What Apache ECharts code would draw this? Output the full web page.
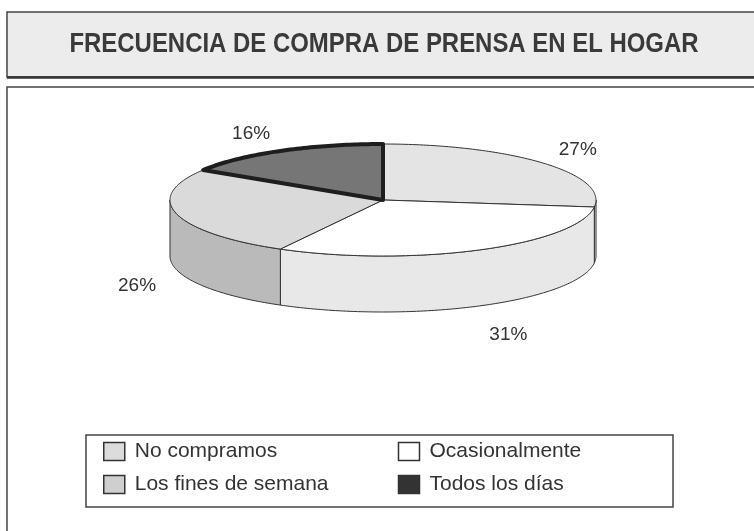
<!DOCTYPE html>
<html>
<head>
<meta charset="utf-8">
<script src="https://cdn.jsdelivr.net/npm/echarts@6/dist/echarts.min.js"></script>
<style>
  html, body { margin: 0; padding: 0; background: #fff; }
  #main { width: 754px; height: 531px; }
</style>
</head>
<body>
<div id="main"></div>
<script>
// data
var titleText = 'FRECUENCIA DE COMPRA DE PRENSA EN EL HOGAR';
var categories = ['No compramos', 'Ocasionalmente', 'Los fines de semana', 'Todos los días'];
var values = [27, 31, 26, 16];
var pctLabels = ['27%', '31%', '26%', '16%'];

// colours
var topColors = ['#e4e4e4', '#ffffff', '#dadada', '#767676'];
var sideColors = ['#e8e8e8', '#e8e8e8', '#bababa', '#444444'];
var legendColors = ['#dcdcdc', '#ffffff', '#cfcfcf', '#333333'];

// 3d pie geometry
var cx = 383, cy = 200, rx = 213, ry = 56, depth = 56;

var total = values.reduce(function (a, b) { return a + b; }, 0);
var starts = [];
var acc = 0;
values.forEach(function (v) { starts.push(acc / total * 360); acc += v; });

function pt(deg, dy) {
  var r = deg * Math.PI / 180;
  return [cx + rx * Math.sin(r), cy - ry * Math.cos(r) + (dy || 0)];
}

function arc(a0, a1, dy) {
  var pts = [];
  var n = Math.max(2, Math.ceil(Math.abs(a1 - a0)));
  for (var k = 0; k <= n; k++) pts.push(pt(a0 + (a1 - a0) * k / n, dy));
  return pts;
}

function makeRender(i) {
  return function (params, api) {
    var a0 = starts[i];
    var a1 = a0 + api.value(0) / total * 360;
    var children = [];
    var dark = i === 3;
    // front wall
    var s = Math.max(a0, 90), e = Math.min(a1, 270);
    if (s < e) {
      var side = arc(s, e, 0).concat(arc(e, s, depth));
      children.push({
        type: 'polygon', z2: 1,
        shape: { points: side },
        style: { fill: sideColors[i], stroke: '#333', lineWidth: 1 }
      });
    }
    // top face
    children.push({
      type: 'polygon', z2: dark ? 3 : 2,
      shape: { points: [[cx, cy]].concat(arc(a0, a1, 0)) },
      style: {
        fill: topColors[i], stroke: dark ? '#1e1e1e' : '#333',
        lineWidth: dark ? 4 : 1, lineJoin: 'round'
      }
    });
    // label, outside the rim
    var mid = (a0 + a1) / 2;
    var r = mid * Math.PI / 180;
    var front = Math.cos(r) < 0 ? depth * 1.2 : 0;
    children.push({
      type: 'text', z2: 5,
      style: {
        text: pctLabels[i],
        x: cx + rx * 1.1 * Math.sin(r),
        y: cy - ry * 1.35 * Math.cos(r) + front,
        align: Math.sin(r) >= 0 ? 'left' : 'right', verticalAlign: 'middle',
        font: '19px "Liberation Sans", Arial, sans-serif',
        fill: '#333'
      }
    });
    return { type: 'group', children: children };
  };
}

var series = categories.map(function (name, i) {
  return {
    type: 'custom',
    name: name,
    coordinateSystem: 'none',
    silent: true,
    itemStyle: { color: legendColors[i] },
    data: [values[i]],
    renderItem: makeRender(i)
  };
});

var myChart = echarts.init(document.getElementById('main'));
var option = {
  backgroundColor: '#fff',
  animation: false,
  legend: {
    data: categories,
    left: 103, top: 441, width: 600,
    orient: 'horizontal',
    padding: 0,
    itemGap: 12,
    itemWidth: 21, itemHeight: 18,
    icon: 'rect',
    itemStyle: { borderColor: '#333', borderWidth: 1.5 },
    selectedMode: false,
    textStyle: {
      fontFamily: '"Liberation Sans", Arial, sans-serif',
      fontSize: 21, lineHeight: 21, color: '#333',
      width: 251, padding: [0, 0, 0, 5]
    }
  },
  graphic: [
    {
      type: 'rect', z: -1,
      shape: { x: 7, y: 12, width: 760, height: 65 },
      style: { fill: '#ececec', stroke: '#444', lineWidth: 1.5 }
    },
    {
      type: 'line', z: -1,
      shape: { x1: 7, y1: 77.5, x2: 754, y2: 77.5 },
      style: { stroke: '#333', lineWidth: 2.5 }
    },
    {
      type: 'text', z: 1,
      x: 384, y: 44, scaleX: 0.855,
      style: {
        text: titleText, x: 0, y: 0,
        align: 'center', verticalAlign: 'middle',
        font: 'bold 28px "Liberation Sans", Arial, sans-serif',
        fill: '#3a3a3a'
      }
    },
    {
      type: 'polyline', z: -1,
      shape: { points: [[7, 531], [7, 87], [754, 87]] },
      style: { fill: null, stroke: '#444', lineWidth: 1.5 }
    },
    {
      type: 'rect', z: -1,
      shape: { x: 86, y: 435, width: 587, height: 72 },
      style: { fill: '#fff', stroke: '#444', lineWidth: 1.5 }
    }
  ],
  series: series
};
myChart.setOption(option);
</script>
</body>
</html>
